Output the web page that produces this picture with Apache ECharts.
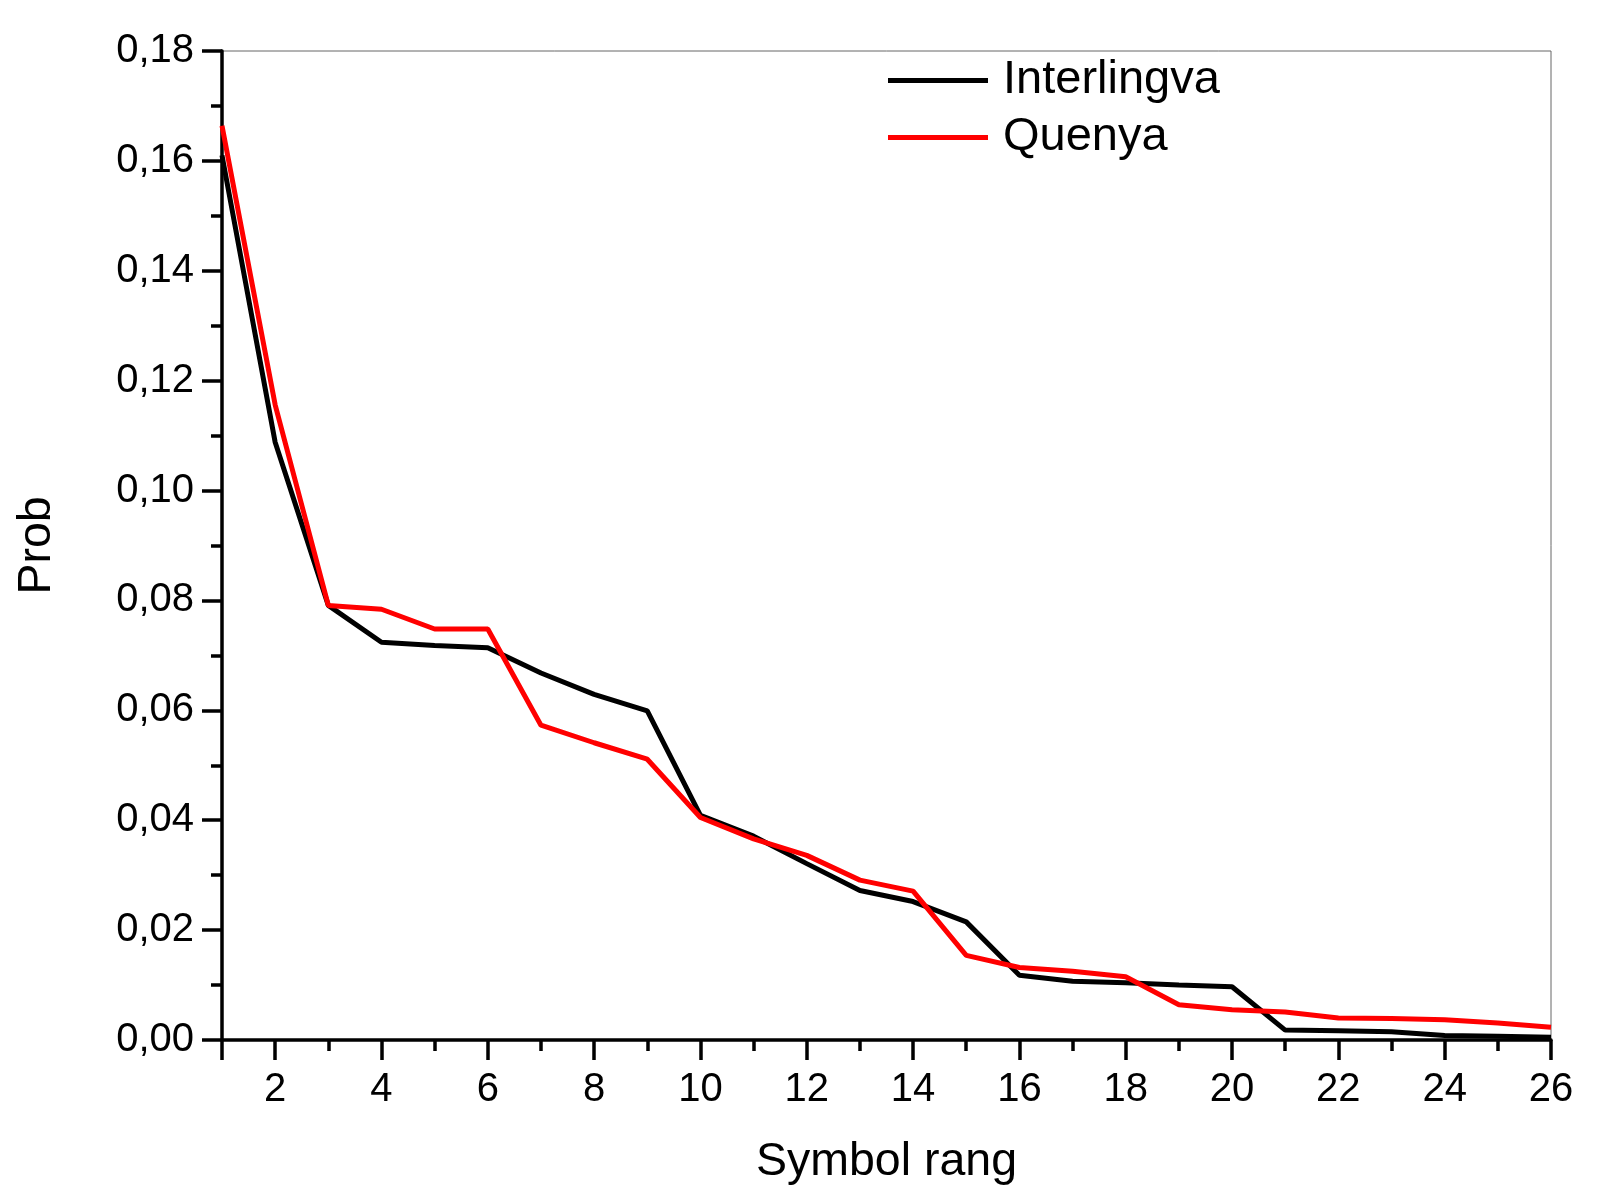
<!DOCTYPE html>
<html>
<head>
<meta charset="utf-8">
<script src="https://cdn.jsdelivr.net/npm/echarts@6/dist/echarts.min.js"></script>
<style>
html,body{margin:0;padding:0;background:#fff;}
#chart{width:1610px;height:1204px;}
</style>
</head>
<body>
<div id="chart"></div>
<script>
const ranks = ['1','2','3','4','5','6','7','8','9','10','11','12','13','14','15','16','17','18','19','20','21','22','23','24','25','26'];
const interlingva = [0.1610,0.1088,0.0791,0.0724,0.0718,0.0714,0.0668,0.0629,0.0599,0.0409,0.0371,0.0321,0.0272,0.0252,0.0215,0.0118,0.0107,0.0104,0.0100,0.0097,0.0018,0.0017,0.0015,0.0008,0.0007,0.0005];
const quenya = [0.1664,0.1156,0.0791,0.0784,0.0748,0.0748,0.0573,0.0541,0.0511,0.0405,0.0366,0.0336,0.0291,0.0271,0.0154,0.0132,0.0125,0.0115,0.0064,0.0055,0.0051,0.0040,0.0039,0.0037,0.0031,0.0023];
const seriesNames = ['Interlingva','Quenya'];
const yTicks = {min:0, max:0.18, interval:0.02};

const FONT = '"Liberation Sans", Arial, Helvetica, sans-serif';
const chart = echarts.init(document.getElementById('chart'), null, {renderer:'canvas'});
const grid = {left:222, right:59, top:51, bottom:164, show:true, borderColor:'#666', borderWidth:1, backgroundColor:'transparent'};
const axisLine = {show:true, lineStyle:{color:'#000', width:3.5}};
chart.setOption({
  animation:false,
  backgroundColor:'#fff',
  grid: grid,
  legend:{
    orient:'vertical', left:883, top:52, itemGap:10,
    itemWidth:100, itemHeight:5, icon:'rect',
    textStyle:{fontFamily:FONT, fontSize:47, color:'#000', lineHeight:47, padding:[0,0,0,10]},
    data: seriesNames
  },
  xAxis:[{
    type:'category', data:ranks, boundaryGap:false,
    name:'Symbol rang', nameLocation:'middle', nameGap:99,
    nameTextStyle:{fontFamily:FONT, fontSize:46.5, color:'#000'},
    axisLine: axisLine,
    axisTick:{show:true, inside:false, length:11, interval:0, lineStyle:{color:'#000', width:3.5}},
    axisLabel:{show:false},
    splitLine:{show:false}
  },{
    type:'category', data:ranks, boundaryGap:false, position:'bottom',
    axisLine:{show:false},
    axisTick:{show:true, inside:false, length:20, interval:function(i){return i%2===1 || i===0;}, lineStyle:{color:'#000', width:3.5}},
    axisLabel:{show:true, margin:30, interval:function(i){return i%2===1;}, fontFamily:FONT, fontSize:40, color:'#000'},
    splitLine:{show:false}
  }],
  yAxis:{
    type:'value', min:yTicks.min, max:yTicks.max, interval:yTicks.interval,
    name:'Prob', nameLocation:'middle', nameGap:161, nameRotate:90,
    nameTextStyle:{fontFamily:FONT, fontSize:46.5, color:'#000'},
    axisLine: axisLine,
    axisTick:{show:true, inside:false, length:20, lineStyle:{color:'#000', width:3.5}},
    minorTick:{show:true, splitNumber:2, length:11, lineStyle:{color:'#000', width:3.5}},
    axisLabel:{margin:28, fontFamily:FONT, fontSize:40, color:'#000', formatter:function(v){return v.toFixed(2).replace('.', ',');}},
    splitLine:{show:false}, minorSplitLine:{show:false}
  },
  series:[{
    name:seriesNames[0], type:'line', data:interlingva, xAxisIndex:0,
    showSymbol:false, symbol:'none', lineStyle:{color:'#000', width:5}, itemStyle:{color:'#000'}
  },{
    name:seriesNames[1], type:'line', data:quenya, xAxisIndex:0,
    showSymbol:false, symbol:'none', lineStyle:{color:'#ff0000', width:5}, itemStyle:{color:'#ff0000'}
  }]
});
</script>
</body>
</html>
